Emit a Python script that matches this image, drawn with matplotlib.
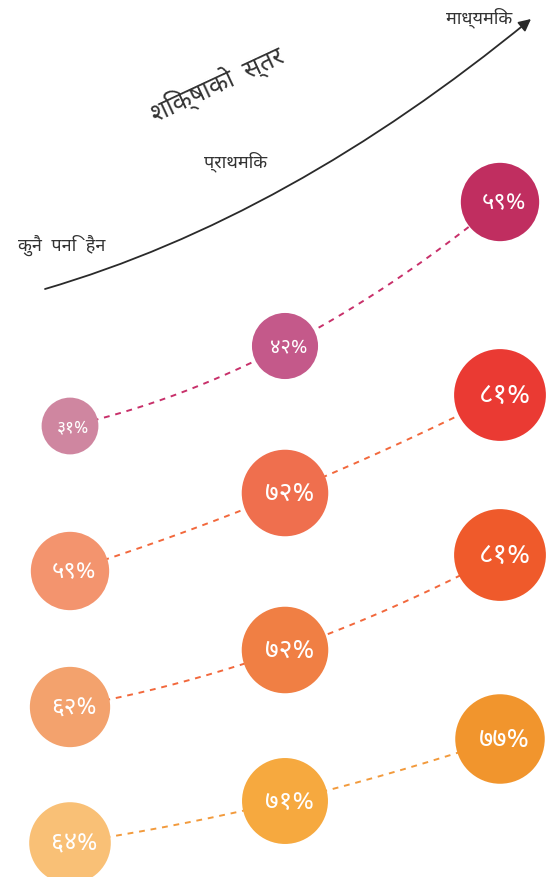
import numpy as np
import matplotlib
matplotlib.use("Agg")
import matplotlib.pyplot as plt
from matplotlib.path import Path
from matplotlib.patches import FancyArrowPatch

plt.rcParams['font.family'] = ['Noto Sans Devanagari', 'Hind', 'DejaVu Sans']

# data: share (%) by level of education, four groups
levels = ["कुनै पनि हैन", "प्राथमिक", "माध्यमिक"]
row_a = [31, 42, 59]
row_b = [59, 72, 81]
row_c = [62, 72, 81]
row_d = [64, 71, 77]
rows = [row_a, row_b, row_c, row_d]
title = "शिक्षाको स्तर"

bubble_colors = [
    ["#CF86A0", "#C4598A", "#C02E60"],
    ["#F3946E", "#EF6F4E", "#EA3A33"],
    ["#F3A26D", "#F07F44", "#EF5A2B"],
    ["#F9C076", "#F6A93F", "#F1952D"],
]
line_colors = ["#C8306A", "#F2683C", "#F2683C", "#F29A3C"]

# layout (pixel-like units, y downwards)
row_base = [675, 1044, 1204, 1356]
px_per_pt = 8.0
sag = [8, 26, 23, 14]
col_x0, col_dx = 70, 215

deva = str.maketrans("0123456789", "०१२३४५६७८९")

fig = plt.figure(figsize=(5.52, 8.78), dpi=100)
ax = fig.add_axes([0, 0, 1, 1])
ax.set_xlim(0, 552)
ax.set_ylim(878, 0)
ax.axis("off")

xs = col_x0 + col_dx * np.arange(len(levels))
for r, vals in enumerate(rows):
    vals = np.array(vals)
    ys = row_base[r] - px_per_pt * vals + sag[r] * (np.arange(len(vals)) == 1)
    # dashed connector through the bubble centres
    coef = np.polyfit(xs, ys, 2)
    xx = np.linspace(xs[0], xs[-1], 200)
    ax.plot(xx, np.polyval(coef, xx), ls=(0, (3, 3)), lw=1.4,
            color=line_colors[r], zorder=1)
    rad = 5.1 * np.sqrt(vals)  # radius in px, area ~ value
    ax.scatter(xs, ys, s=(2 * rad * 0.72) ** 2, c=bubble_colors[r],
               linewidths=0, zorder=2)
    for x, y, v, rr in zip(xs, ys, vals, rad):
        ax.text(x + 0.1 * rr, y, str(v).translate(deva) + "%", color="white",
                fontsize=0.44 * rr, fontweight="light",
                ha="center", va="center", zorder=3)

# education level arrow
p0, p1, p2 = (45, 290), (288, 219), (531, 20)
arrow = FancyArrowPatch(path=Path([p0, p1, p2], [Path.MOVETO, Path.CURVE3, Path.CURVE3]),
                        arrowstyle="-|>", mutation_scale=18, lw=1.3,
                        color="#2a2a2a", zorder=4)
ax.add_patch(arrow)

ax.text(18, 245, levels[0].replace(" ", "  "), fontsize=13, color="#333333",
        ha="left", va="center")
ax.text(236, 162, levels[1], fontsize=13, color="#333333", ha="center", va="center")
ax.text(512, 18, levels[2], fontsize=13, color="#333333", ha="right", va="center")
ax.text(217, 84, title.replace(" ", "  "), fontsize=18, color="#333333",
        ha="center", va="center", rotation=25)

fig.savefig("out.png", dpi=100)
